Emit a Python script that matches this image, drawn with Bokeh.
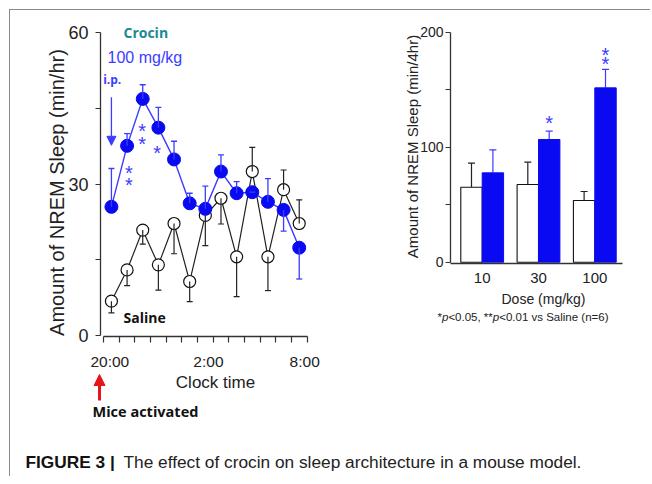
from bokeh.plotting import figure
from bokeh.models import (FixedTicker, Label, Arrow, NormalHead, Whisker, TeeHead,
                          ColumnDataSource, Range1d)
from bokeh.layouts import row, column
from bokeh.embed import file_html
from bokeh.resources import INLINE

# ---------------- data ----------------
hour_mid = [0.5, 1.5, 2.5, 3.5, 4.5, 5.5, 6.5, 7.5, 8.5, 9.5, 10.5, 11.5, 12.5]
crocin_sleep = [25.5, 37.6, 46.9, 41.2, 34.9, 26.2, 25.1, 32.5, 28.2, 28.4, 26.5, 24.9, 17.4]
crocin_err = [7.6, 2.4, 2.8, 4.0, 3.6, 2.0, 4.5, 3.3, 2.3, 0.0, 4.6, -4.2, -6.2]
saline_sleep = [6.8, 13.0, 20.9, 14.0, 22.2, 10.7, 23.8, 27.2, 15.6, 32.5, 15.6, 28.9, 22.2]
saline_err = [-2.3, -3.1, -2.8, -5.0, -6.0, -4.0, -6.0, -5.1, -7.9, 4.8, -6.7, 3.9, 4.7]
hour_ticks = [0, 1, 2, 3, 4, 5, 6, 7, 8, 9, 10, 11, 12, 13]
time_tick_pos = [0.4, 6.7, 12.85]
time_tick_labels = ["20:00", "2:00", "8:00"]
sleep_ticks = [0, 30, 60]
sleep_minor = [15, 45]

doses = ["10", "30", "100"]
saline_total = [65.2, 67.6, 53.7]
saline_total_err = [21.0, 19.4, 7.8]
crocin_total = [77.7, 106.7, 151.6]
crocin_total_err = [20.0, 7.2, 16.0]
total_ticks = [0, 100, 200]
total_minor = [50, 150]

# ---------------- styles ----------------
FONT = "Liberation Sans"
BOLD_FONT = "Open Sans"
BLUE = "#0a0af2"
BLUE_LINE = "#3c3cff"
TEAL = "#1b8a94"
AXIS = "#333333"
TXT = "#222222"


def base_style(p):
    p.xgrid.visible = False
    p.ygrid.visible = False
    p.outline_line_color = None
    p.background_fill_color = "white"
    p.border_fill_color = "white"
    for ax in p.axis:
        ax.axis_line_color = AXIS
        ax.axis_line_width = 1.3
        ax.major_tick_line_color = AXIS
        ax.minor_tick_line_color = AXIS
        ax.major_tick_line_width = 1.2
        ax.minor_tick_line_width = 1.2
        ax.major_tick_in = 0
        ax.minor_tick_in = 0
        ax.major_label_text_font = FONT
        ax.major_label_text_color = TXT


def title_label(p, x, y, text, size, angle=0):
    p.add_layout(Label(x=x, y=y, text=text, text_font=FONT, text_font_size=size,
                       text_color=TXT, text_align="center", text_baseline="middle",
                       angle=angle, angle_units="deg"))


# ---------------- left: time course ----------------
left = figure(width=370, height=415, output_backend="svg", toolbar_location=None,
              x_range=Range1d(-5.949, 17.693), y_range=Range1d(-17.84, 64.42),
              min_border=0, frame_align=False)
base_style(left)

xa = left.xaxis[0]
xa.fixed_location = -0.2
xa.ticker = FixedTicker(ticks=time_tick_pos, minor_ticks=hour_ticks)
xa.major_label_overrides = {p: l for p, l in zip(time_tick_pos, time_tick_labels)}
xa.bounds = (hour_ticks[0], hour_ticks[-1])
xa.major_tick_out = 0
xa.minor_tick_out = 6
xa.major_label_standoff = 10
xa.major_label_text_font_size = "15.5px"

ya = left.yaxis[0]
ya.fixed_location = -0.2
ya.ticker = FixedTicker(ticks=sleep_ticks, minor_ticks=sleep_minor)
ya.bounds = (sleep_ticks[0], sleep_ticks[-1])
ya.major_tick_out = 5
ya.minor_tick_out = 5
ya.major_label_standoff = 7
ya.major_label_text_font_size = "18px"

title_label(left, 7.15, -9.26, "Clock time", "17px")
title_label(left, -2.946, 28.34, "Amount of NREM Sleep (min/hr)", "20px", angle=90)

src_s = ColumnDataSource(dict(x=hour_mid, y=saline_sleep,
                              tip=[v + e for v, e in zip(saline_sleep, saline_err)]))
src_c = ColumnDataSource(dict(x=hour_mid, y=crocin_sleep,
                              tip=[v + e for v, e in zip(crocin_sleep, crocin_err)]))

ws = Whisker(source=src_s, base="x", upper="tip", lower="y", dimension="height",
             line_color="#222222", line_width=1.2, lower_head=None,
             upper_head=TeeHead(size=6, line_color="#222222", line_width=1.2), level="glyph")
left.add_layout(ws)
left.line("x", "y", source=src_s, line_color="#222222", line_width=1.2)
left.scatter("x", "y", source=src_s, size=12, marker="circle", fill_color="white",
             line_color="#111111", line_width=1.2)

wc = Whisker(source=src_c, base="x", upper="tip", lower="y", dimension="height",
             line_color=BLUE_LINE, line_width=1.3, lower_head=None,
             upper_head=TeeHead(size=6, line_color=BLUE_LINE, line_width=1.3), level="glyph")
left.add_layout(wc)
left.line("x", "y", source=src_c, line_color=BLUE_LINE, line_width=1.4)
left.scatter("x", "y", source=src_c, size=13, marker="circle", fill_color=BLUE,
             line_color=BLUE, line_width=1)

# significance stars
for sx, sy in [(1.61, 33.1), (1.61, 30.6), (2.47, 41.3), (2.47, 38.7), (3.42, 37.0)]:
    left.add_layout(Label(x=sx, y=sy, text="*", text_font=FONT, text_font_size="20px",
                          text_color=BLUE_LINE, text_align="center", text_baseline="middle",
                          y_offset=-4))

left.add_layout(Label(x=1.27, y=60.05, text="Crocin", text_font=BOLD_FONT,
                      text_font_style="bold", text_font_size="14px", text_color=TEAL,
                      text_baseline="middle"))
left.add_layout(Label(x=0.25, y=55.1, text="100 mg/kg", text_font=FONT,
                      text_font_size="16px", text_color=BLUE_LINE, text_baseline="middle"))
left.add_layout(Label(x=-0.03, y=50.7, text="i.p.", text_font=BOLD_FONT,
                      text_font_style="bold", text_font_size="12px", text_color=BLUE_LINE,
                      text_baseline="middle"))
left.add_layout(Arrow(x_start=0.5, y_start=47.2, x_end=0.5, y_end=37.7,
                      line_color=BLUE_LINE, line_width=1.3,
                      end=NormalHead(size=9, fill_color=BLUE_LINE, line_color=BLUE_LINE)))
left.add_layout(Label(x=1.27, y=3.6, text="Saline", text_font=BOLD_FONT,
                      text_font_style="bold", text_font_size="14px", text_color="#111111",
                      text_baseline="middle"))
left.add_layout(Arrow(x_start=-0.262, y_start=-12.88, x_end=-0.262, y_end=-7.73,
                      line_color="#e8141b", line_width=3,
                      end=NormalHead(size=11, fill_color="#e8141b", line_color="#e8141b")))
left.add_layout(Label(x=-0.709, y=-15.06, text="Mice activated", text_font=BOLD_FONT,
                      text_font_style="bold", text_font_size="14.5px", text_color="#111111",
                      text_baseline="middle"))

# ---------------- right: totals ----------------
right = figure(width=270, height=415, output_backend="svg", toolbar_location=None,
               x_range=Range1d(-1.806, 2.989), y_range=Range1d(-142.0, 218.87),
               min_border=0, frame_align=False)
base_style(right)

idx = list(range(len(doses)))
sal_x = [i - 0.19 for i in idx]
cro_x = [i + 0.19 for i in idx]
right.vbar(x=sal_x, top=saline_total, width=0.38, fill_color="white",
           line_color="#111111", line_width=1.1)
right.vbar(x=cro_x, top=crocin_total, width=0.38, fill_color=BLUE, line_color=BLUE,
           line_width=1)

rs = ColumnDataSource(dict(x=sal_x, y=saline_total,
                           tip=[v + e for v, e in zip(saline_total, saline_total_err)]))
rc = ColumnDataSource(dict(x=cro_x, y=crocin_total,
                           tip=[v + e for v, e in zip(crocin_total, crocin_total_err)]))
right.add_layout(Whisker(source=rs, base="x", upper="tip", lower="y", dimension="height",
                         line_color="#222222", line_width=1.2, lower_head=None,
                         upper_head=TeeHead(size=7, line_color="#222222", line_width=1.2),
                         level="underlay"))
right.add_layout(Whisker(source=rc, base="x", upper="tip", lower="y", dimension="height",
                         line_color=BLUE_LINE, line_width=1.2, lower_head=None,
                         upper_head=TeeHead(size=7, line_color=BLUE_LINE, line_width=1.2),
                         level="underlay"))

rx = right.xaxis[0]
rx.fixed_location = -0.87
rx.ticker = FixedTicker(ticks=idx)
rx.major_label_overrides = {i: d for i, d in zip(idx, doses)}
rx.bounds = (-0.563, 2.487)
rx.major_tick_out = 0
rx.minor_tick_out = 0
rx.major_label_standoff = 10
rx.major_label_text_font_size = "15px"

ry = right.yaxis[0]
ry.fixed_location = -0.563
ry.ticker = FixedTicker(ticks=total_ticks, minor_ticks=total_minor)
ry.bounds = (total_ticks[0], total_ticks[-1])
ry.major_tick_out = 5
ry.minor_tick_out = 5
ry.major_label_standoff = 2
ry.major_label_text_font_size = "14px"

title_label(right, 1.089, -31.8, "Dose (mg/kg)", "14px")
title_label(right, -1.24, 100.6, "Amount of NREM Sleep (min/4hr)", "15px", angle=90)

for sx, sy in [(1.19, 124.7), (2.19, 184.0), (2.19, 175.4)]:
    right.add_layout(Label(x=sx, y=sy, text="*", text_font=FONT, text_font_size="20px",
                           text_color=BLUE_LINE, text_align="center", text_baseline="middle",
                           y_offset=-4))

foot_parts = ["*", "p", "<0.05, **", "p", "<0.01 vs Saline  (n=6)"]
foot_italic = [False, True, False, True, False]
foot_dx = [0, 4.5, 10.9, 55.3, 61.7]
for t, it, dx in zip(foot_parts, foot_italic, foot_dx):
    right.add_layout(Label(x=-0.794, y=-47.8, x_offset=dx, text=t, text_font=FONT,
                           text_font_size="11.5px", text_color=TXT,
                           text_font_style="italic" if it else "normal",
                           text_baseline="middle"))

# ---------------- caption ----------------
cap = figure(width=640, height=51, output_backend="svg", toolbar_location=None,
             x_range=Range1d(0, 640), y_range=Range1d(0, 51), min_border=0,
             frame_align=False)
cap.axis.visible = False
cap.xgrid.visible = False
cap.ygrid.visible = False
cap.outline_line_color = None
cap.add_layout(Label(x=15, y=14.3, text="FIGURE 3 |", text_font=FONT,
                     text_font_style="bold", text_font_size="17.3px", text_color="#111111",
                     text_baseline="middle"))
cap.add_layout(Label(x=113, y=14.3,
                     text="The effect of crocin on sleep architecture in a mouse model.",
                     text_font=FONT, text_font_size="17.3px",
                     text_color="#222222", text_baseline="middle"))

layout = column(row(left, right), cap,
                styles={"margin-left": "9px", "margin-top": "9px",
                        "border-left": "1px solid #8a8a8a", "border-top": "1px solid #8a8a8a"})

open("out.html", "w").write(file_html(layout, INLINE))
